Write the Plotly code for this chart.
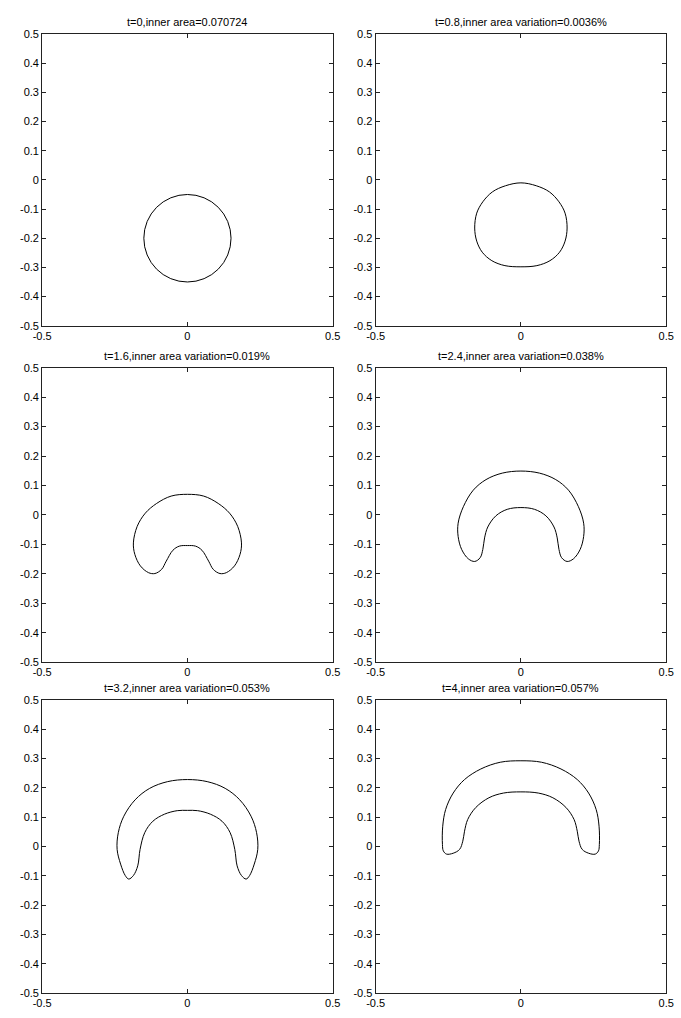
import math
import plotly.graph_objects as go

# Panel titles (time and inner-area change)
titles = [
    "t=0,inner area=0.070724",
    "t=0.8,inner area variation=0.0036%",
    "t=1.6,inner area variation=0.019%",
    "t=2.4,inner area variation=0.038%",
    "t=3.2,inner area variation=0.053%",
    "t=4,inner area variation=0.057%",
]

# Initial bubble: circle of given area centred below the origin
circle_area = 0.070724
circle_center = (0.0, -0.2)

# Interface contours at later times (closed curves)
x_t08 = [0, -0.053, -0.098, -0.131, -0.152, -0.159, -0.152, -0.133, -0.100, -0.055, 0,
         0.055, 0.100, 0.133, 0.152, 0.159, 0.152, 0.131, 0.098, 0.053, 0]
y_t08 = [-0.010, -0.020, -0.041, -0.075, -0.114, -0.165, -0.210, -0.248, -0.277, -0.294, -0.298,
         -0.294, -0.277, -0.248, -0.210, -0.165, -0.114, -0.075, -0.041, -0.020, -0.010]

x_t16 = [0, -0.056, -0.106, -0.145, -0.173, -0.186, -0.181, -0.162, -0.134, -0.112, -0.089,
         -0.073, -0.050, -0.028, 0, 0.028, 0.050, 0.073, 0.089, 0.112, 0.134, 0.162, 0.181,
         0.186, 0.173, 0.145, 0.106, 0.056, 0]
y_t16 = [0.070, 0.064, 0.039, 0.006, -0.039, -0.095, -0.134, -0.173, -0.196, -0.199, -0.185,
         -0.157, -0.120, -0.106, -0.104, -0.106, -0.120, -0.157, -0.185, -0.199, -0.196, -0.173,
         -0.134, -0.095, -0.039, 0.006, 0.039, 0.064, 0.070]

x_t24 = [0, -0.064, -0.120, -0.164, -0.198, -0.216, -0.216, -0.204, -0.181, -0.159, -0.140,
         -0.131, -0.125, -0.114, -0.086, -0.047, 0, 0.047, 0.086, 0.114, 0.125, 0.131, 0.140,
         0.159, 0.181, 0.204, 0.216, 0.216, 0.198, 0.164, 0.120, 0.064, 0]
y_t24 = [0.149, 0.142, 0.120, 0.084, 0.028, -0.028, -0.073, -0.117, -0.149, -0.158, -0.145,
         -0.117, -0.078, -0.041, -0.003, 0.019, 0.025, 0.019, -0.003, -0.041, -0.078, -0.117,
         -0.145, -0.158, -0.149, -0.117, -0.073, -0.028, 0.028, 0.084, 0.120, 0.142, 0.149]

x_t32 = [0, -0.068, -0.130, -0.180, -0.219, -0.238, -0.242, -0.230, -0.214, -0.202, -0.186,
         -0.171, -0.163, -0.147, -0.119, -0.079, -0.035, 0, 0.035, 0.079, 0.119, 0.147, 0.163,
         0.171, 0.186, 0.202, 0.214, 0.230, 0.242, 0.238, 0.219, 0.180, 0.130, 0.068, 0]
y_t32 = [0.228, 0.221, 0.198, 0.159, 0.103, 0.047, -0.010, -0.060, -0.099, -0.111, -0.099,
         -0.066, -0.010, 0.047, 0.086, 0.110, 0.122, 0.123, 0.122, 0.110, 0.086, 0.047, -0.010,
         -0.066, -0.099, -0.111, -0.099, -0.060, -0.010, 0.047, 0.103, 0.159, 0.198, 0.221, 0.228]

x_t40 = [0, -0.071, -0.138, -0.194, -0.233, -0.259, -0.269, -0.270, -0.267, -0.256, -0.233,
         -0.211, -0.200, -0.194, -0.183, -0.155, -0.110, -0.060, 0, 0.060, 0.110, 0.155, 0.183,
         0.194, 0.200, 0.211, 0.233, 0.256, 0.267, 0.270, 0.269, 0.259, 0.233, 0.194, 0.138,
         0.071, 0]
y_t40 = [0.292, 0.287, 0.264, 0.228, 0.182, 0.126, 0.069, 0.007, -0.015, -0.026, -0.023,
         -0.010, 0.018, 0.052, 0.092, 0.133, 0.166, 0.182, 0.186, 0.182, 0.166, 0.133, 0.092,
         0.052, 0.018, -0.010, -0.023, -0.026, -0.015, 0.007, 0.069, 0.126, 0.182, 0.228, 0.264,
         0.287, 0.292]

# Axis ticks
x_tickvals = [-0.5, 0, 0.5]
x_ticktext = ["-0.5", "0", "0.5"]
y_tickvals = [-0.5, -0.4, -0.3, -0.2, -0.1, 0, 0.1, 0.2, 0.3, 0.4, 0.5]
y_ticktext = ["-0.5", "-0.4", "-0.3", "-0.2", "-0.1", "0", "0.1", "0.2", "0.3", "0.4", "0.5"]

W, H = 681, 1018
col_px = [(34, 332), (376, 674)]
row_px = [(28.5, 323.5), (366, 664), (702, 999)]

font = dict(family="Liberation Sans, Arial, sans-serif", size=11, color="black")

fig = go.Figure()
contours = [None, (x_t08, y_t08), (x_t16, y_t16), (x_t24, y_t24), (x_t32, y_t32), (x_t40, y_t40)]

layout_axes = {}
annotations = []
shapes = []
for i in range(6):
    r, c = divmod(i, 2)
    n = "" if i == 0 else str(i + 1)
    xd = [col_px[c][0] / W, col_px[c][1] / W]
    yd = [1 - row_px[r][1] / H, 1 - row_px[r][0] / H]
    common = dict(showgrid=False, zeroline=False, showline=True, linecolor="#222222",
                  linewidth=1, mirror="ticks", ticks="inside", ticklen=4,
                  tickcolor="#222222", tickwidth=1, tickfont=font, fixedrange=True)
    layout_axes["xaxis" + n] = dict(domain=xd, range=[-0.5, 0.5], anchor="y" + n,
                                     tickvals=x_tickvals, ticktext=x_ticktext, **common)
    layout_axes["yaxis" + n] = dict(domain=yd, range=[-0.5, 0.5], anchor="x" + n,
                                     tickvals=y_tickvals, ticktext=y_ticktext, **common)
    annotations.append(dict(text=titles[i], xref="x%s domain" % n, yref="y%s domain" % n,
                            x=0.5, y=1, xanchor="center", yanchor="bottom", yshift=4,
                            showarrow=False, font=font))
    if contours[i] is None:
        rad = math.sqrt(circle_area / math.pi)
        cx, cy = circle_center
        shapes.append(dict(type="circle", xref="x", yref="y", x0=cx - rad, x1=cx + rad,
                           y0=cy - rad, y1=cy + rad, line=dict(color="black", width=1)))
        # invisible anchor trace so the axes are drawn
        fig.add_trace(go.Scatter(x=[cx], y=[cy], mode="markers", marker=dict(opacity=0),
                                 xaxis="x", yaxis="y", hoverinfo="skip", showlegend=False))
    else:
        xs, ys = contours[i]
        fig.add_trace(go.Scatter(x=xs, y=ys, mode="lines", line=dict(color="black", width=1,
                                 shape="spline", smoothing=1.0),
                                 xaxis="x" + n, yaxis="y" + n, showlegend=False))

fig.update_layout(width=W, height=H, margin=dict(l=0, r=0, t=0, b=0),
                  paper_bgcolor="white", plot_bgcolor="white", showlegend=False,
                  annotations=annotations, shapes=shapes, font=font, **layout_axes)

fig.write_html("out.html")
